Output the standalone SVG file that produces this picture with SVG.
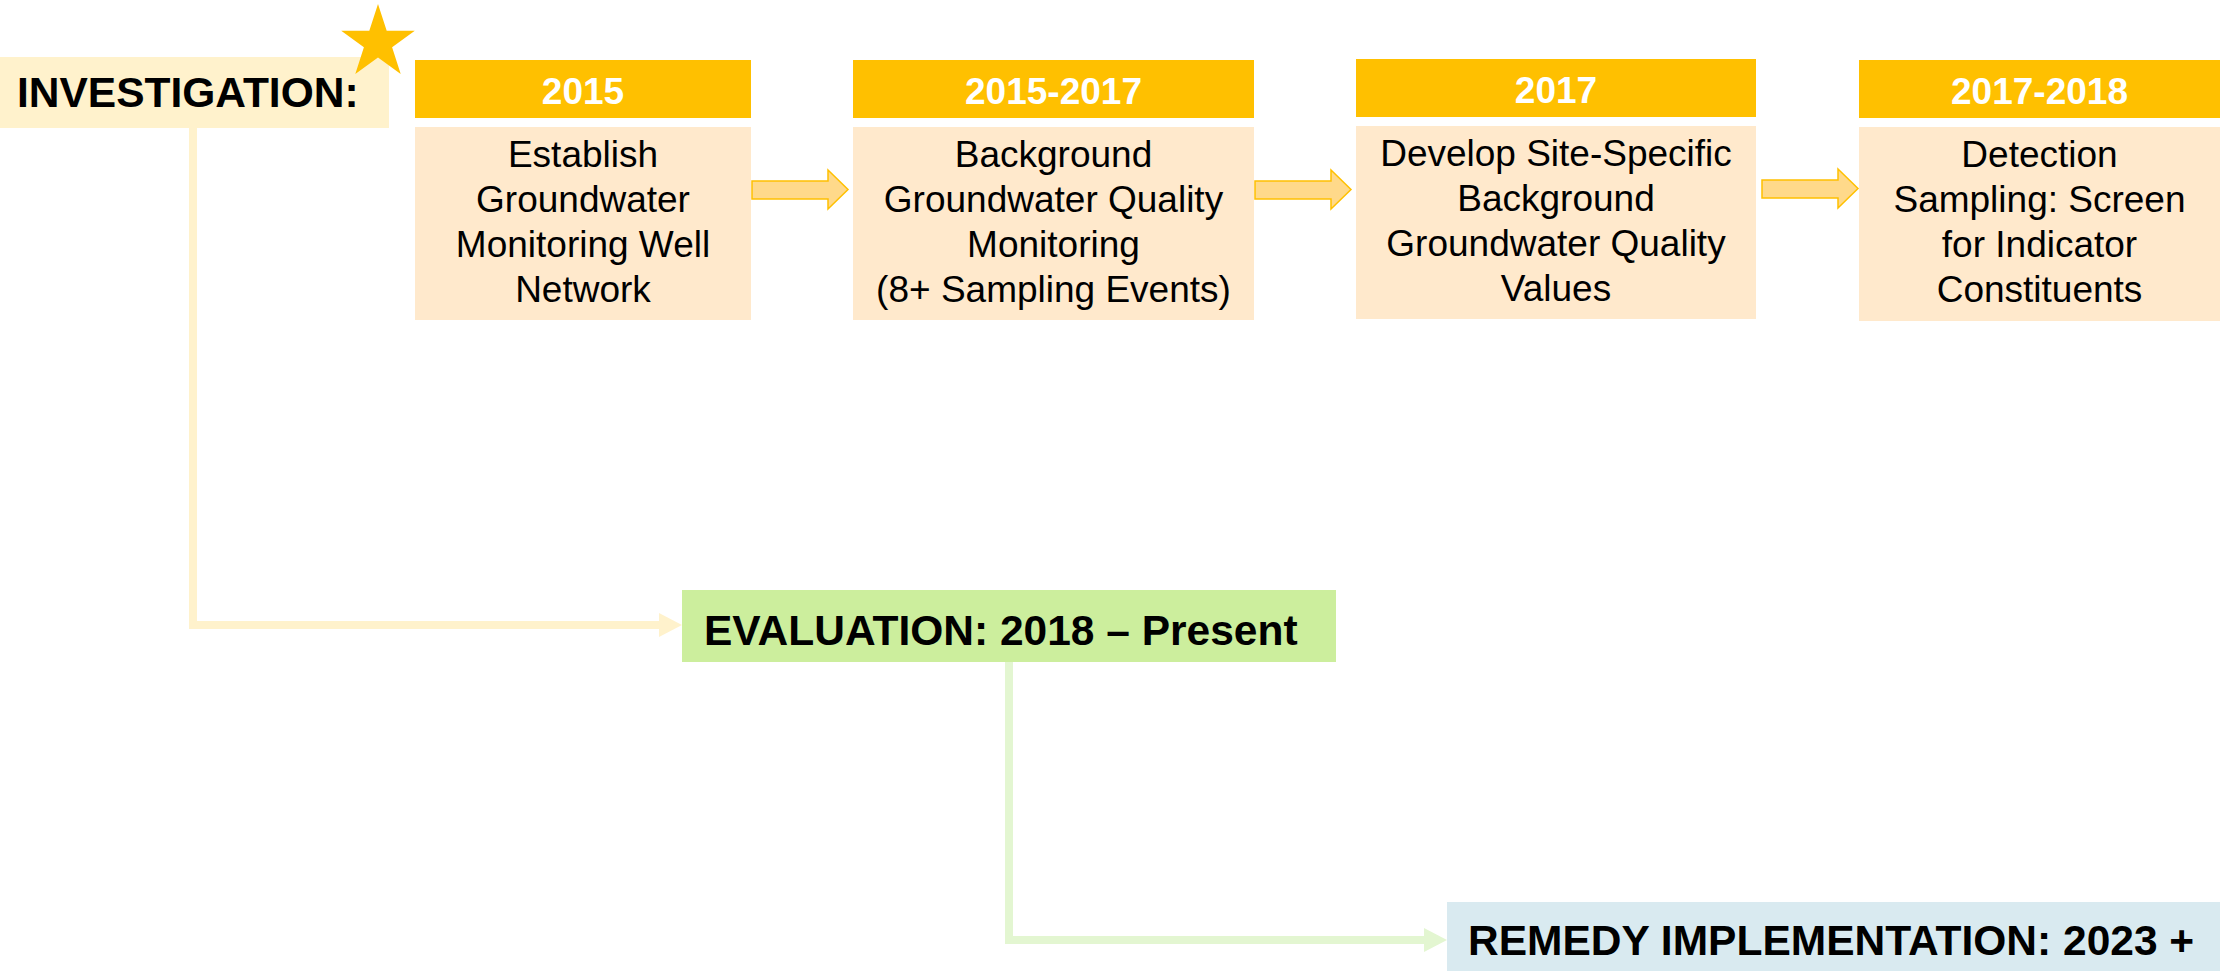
<svg xmlns="http://www.w3.org/2000/svg" width="2220" height="971" viewBox="0 0 2220 971">
<style>
.hdr{fill:#FFC000}
.body{fill:#FFE9CC}
.ht{font-family:"Liberation Sans",Arial,sans-serif;font-weight:bold;font-size:37px;fill:#FFFFFF;text-anchor:middle}
.bt{font-family:"Liberation Sans",Arial,sans-serif;font-size:37px;fill:#000000;text-anchor:middle}
.lbl{font-family:"Liberation Sans",Arial,sans-serif;font-weight:bold;font-size:42.5px;fill:#000000}
.arr{fill:#FFD98A;stroke:#FFC000;stroke-width:1.5}
</style>
<rect width="2220" height="971" fill="#FFFFFF"/>
<g id="connectors">
  <polyline points="193,127 193,625 660,625" fill="none" stroke="#FFF2CC" stroke-width="8"/>
  <polygon points="659,613 682,625 659,637" fill="#FFF2CC"/>
  <polyline points="1009,661 1009,940 1425,940" fill="none" stroke="#E3F6D1" stroke-width="8"/>
  <polygon points="1424,928 1447,940 1424,952" fill="#E3F6D1"/>
  <polygon class="arr" points="752,181 828,181 828,170 848,189.5 828,209 828,199 752,199"/>
  <polygon class="arr" points="1255,181 1331,181 1331,170 1351,189.5 1331,209 1331,199 1255,199"/>
  <polygon class="arr" points="1762,180 1838,180 1838,169 1858,188.5 1838,208 1838,198 1762,198"/>
</g>
<g id="investigation">
  <rect x="0" y="57" width="389" height="71" fill="#FFF2CC"/>
  <text class="lbl" x="17" y="107">INVESTIGATION:</text>
</g>
<g id="star">
  <polygon points="378,4 386.7,30.7 414.8,30.7 392.1,47.3 400.7,74 378,57.5 355.3,74 363.9,47.3 341.2,30.7 369.3,30.7" fill="#FFC000"/>
</g>
<g id="step1">
  <rect class="hdr" x="415" y="60" width="336" height="58"/>
  <text class="ht" x="583" y="104">2015</text>
  <rect class="body" x="415" y="127" width="336" height="193"/>
  <text class="bt" x="583" y="167">Establish</text>
  <text class="bt" x="583" y="212">Groundwater</text>
  <text class="bt" x="583" y="257">Monitoring Well</text>
  <text class="bt" x="583" y="302">Network</text>
</g>
<g id="step2">
  <rect class="hdr" x="853" y="60" width="401" height="58"/>
  <text class="ht" x="1053.5" y="104">2015-2017</text>
  <rect class="body" x="853" y="127" width="401" height="193"/>
  <text class="bt" x="1053.5" y="167">Background</text>
  <text class="bt" x="1053.5" y="212">Groundwater Quality</text>
  <text class="bt" x="1053.5" y="257">Monitoring</text>
  <text class="bt" x="1053.5" y="302">(8+ Sampling Events)</text>
</g>
<g id="step3">
  <rect class="hdr" x="1356" y="59" width="400" height="58"/>
  <text class="ht" x="1556" y="103">2017</text>
  <rect class="body" x="1356" y="126" width="400" height="193"/>
  <text class="bt" x="1556" y="166">Develop Site-Specific</text>
  <text class="bt" x="1556" y="211">Background</text>
  <text class="bt" x="1556" y="256">Groundwater Quality</text>
  <text class="bt" x="1556" y="301">Values</text>
</g>
<g id="step4">
  <rect class="hdr" x="1859" y="60" width="361" height="58"/>
  <text class="ht" x="2039.5" y="104">2017-2018</text>
  <rect class="body" x="1859" y="127" width="361" height="194"/>
  <text class="bt" x="2039.5" y="167">Detection</text>
  <text class="bt" x="2039.5" y="212">Sampling: Screen</text>
  <text class="bt" x="2039.5" y="257">for Indicator</text>
  <text class="bt" x="2039.5" y="302">Constituents</text>
</g>
<g id="evaluation">
  <rect x="682" y="590" width="654" height="72" fill="#CCEE9D"/>
  <text class="lbl" x="704" y="645">EVALUATION: 2018 – Present</text>
</g>
<g id="remedy">
  <rect x="1447" y="902" width="773" height="69" fill="#D9EAF0"/>
  <text class="lbl" x="1468" y="955">REMEDY IMPLEMENTATION: 2023 +</text>
</g>
</svg>
